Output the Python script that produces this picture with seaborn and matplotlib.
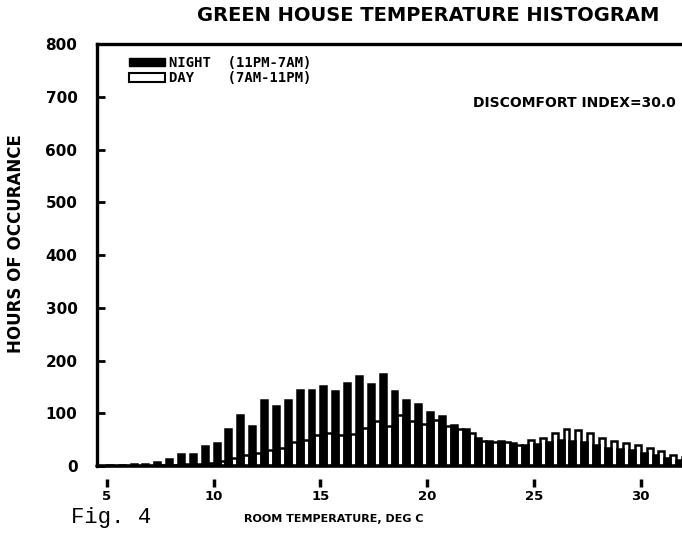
import pandas as pd
import seaborn as sns
import matplotlib.pyplot as plt
from matplotlib.patches import Patch

# Bins are 1 deg F wide (41..90 F), plotted in deg C
bin_edges_f = list(range(41, 91))

night_hours = [1, 2, 3, 4, 8, 13, 23, 23,
               38, 44, 70, 97, 76, 125, 113, 125, 144, 144, 151, 142, 157, 170,
               155, 174, 142, 125, 117, 102, 94, 78, 70,
               53, 47, 47, 43, 40, 42, 45, 50, 48, 45, 40, 35, 32, 30, 25, 20, 15, 12]
day_hours = [0, 0, 0, 0, 1, 2, 3, 4,
             5, 10, 15, 20, 25, 30, 35, 45, 50, 58, 62, 58, 60, 72,
             85, 75, 97, 85, 80, 88, 75, 70, 62,
             48, 45, 45, 40, 49, 53, 62, 70, 68, 62, 53, 47, 43, 40, 34, 28, 21, 18]

x_ticks = [5, 10, 15, 20, 25, 30]
y_ticks = [0, 100, 200, 300, 400, 500, 600, 700, 800]

edges_c = [(f - 32) * 5 / 9 for f in bin_edges_f]
centers_c = [(a + b) / 2 for a, b in zip(edges_c[:-1], edges_c[1:])]

df = pd.DataFrame({
    'temp': centers_c + centers_c,
    'hours': night_hours + day_hours,
    'period': ['NIGHT'] * len(night_hours) + ['DAY'] * len(day_hours),
})

sns.set_theme(style="white")
plt.rcParams['font.family'] = ['DejaVu Sans']
plt.rcParams['text.color'] = 'black'
plt.rcParams['axes.labelcolor'] = 'black'
plt.rcParams['xtick.color'] = 'black'
plt.rcParams['ytick.color'] = 'black'

fig = plt.figure(figsize=(6.82, 5.4), dpi=100)
ax = fig.add_axes([0.142, 0.137, 0.86, 0.7815])

sns.histplot(data=df, x='temp', weights='hours', hue='period',
             hue_order=['NIGHT', 'DAY'], bins=edges_c, multiple='dodge',
             shrink=1.0, palette={'NIGHT': 'black', 'DAY': 'white'},
             edgecolor='black', linewidth=1.8, alpha=1, legend=False, ax=ax)

ax.set_xlim(4.53, 32.0)
ax.set_ylim(0, 800)

# frame: left + top, baseline drawn separately, ticks detached below
ax.spines['right'].set_visible(False)
for s in ['left', 'top']:
    ax.spines[s].set_linewidth(2.4)
    ax.spines[s].set_color('black')
ax.spines['bottom'].set_position(('outward', 9))
ax.spines['bottom'].set_visible(False)
ax.axhline(0, color='black', lw=2.6, clip_on=False, zorder=5)

ax.set_xticks(x_ticks)
ax.set_xticklabels([str(t) for t in x_ticks], fontsize=9.5, fontweight='bold')
ax.set_yticks(y_ticks)
ax.set_yticklabels([str(t) for t in y_ticks], fontsize=11, fontweight='bold')
ax.tick_params(axis='x', direction='out', length=6, width=2.5, pad=2, bottom=True)
ax.tick_params(axis='y', direction='in', length=6, width=2, pad=14, left=True)

ax.set_xlabel('')
ax.set_ylabel('HOURS OF OCCURANCE', fontsize=12, fontweight='bold')
ax.yaxis.set_label_coords(-0.122, 0.528)

fig.text(0.628, 0.972, 'GREEN HOUSE TEMPERATURE HISTOGRAM', ha='center', va='center',
         fontsize=14, fontweight='bold')
ax.text(0.987, 0.86, 'DISCOMFORT INDEX=30.0', transform=ax.transAxes, ha='right',
        va='center', fontsize=10, fontweight='bold')
fig.text(0.49, 0.039, 'ROOM TEMPERATURE, DEG C', ha='center', va='center',
         fontsize=8, fontweight='bold')
fig.text(0.104, 0.042, 'Fig. 4', ha='left', va='center', fontsize=16,
         family='Liberation Mono')

handles = [Patch(facecolor='black', edgecolor='black'),
           Patch(facecolor='white', edgecolor='black', linewidth=1.5)]
ax.legend(handles, ['NIGHT  (11PM-7AM)', 'DAY    (7AM-11PM)'], loc='upper left',
          bbox_to_anchor=(0.045, 0.985), frameon=False, handlelength=2.6,
          handleheight=0.6, labelspacing=0.1, handletextpad=0.3, borderaxespad=0,
          prop={'family': 'DejaVu Sans Mono', 'weight': 'bold', 'size': 10})

fig.savefig('out.png', dpi=100)
